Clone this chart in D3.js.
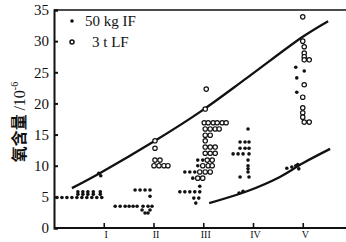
<!DOCTYPE html>
<html>
<head>
<meta charset="utf-8">
<script src="https://cdn.jsdelivr.net/npm/d3@7"></script>
<style>
  body { margin: 0; background: #fff; }
  svg { display: block; }
  .tick text { font-family: "Liberation Serif", "DejaVu Serif", serif; fill: #111; }
</style>
</head>
<body>
<svg id="chart" width="346" height="242"></svg>
<script>
(function (d3) {
  'use strict';

  // group labels on the x axis (I..V sit at 1..5)
  var groups = ["I", "II", "III", "IV", "V"];
  var yTicks = [0, 5, 10, 15, 20, 25, 30, 35];
  var legendLabels = ["50 kg IF", "3 t LF"];

  // 50 kg IF  (filled dots), [position, oxygen]
  var smallIF = [
    [0.06, 4.9], [0.16, 4.9], [0.26, 4.9], [0.36, 4.9], [0.46, 4.9], [0.56, 4.9],
    [0.66, 4.9], [0.76, 4.9], [0.86, 4.9], [0.96, 4.9],
    [0.48, 5.4], [0.58, 5.4], [0.68, 5.4], [0.79, 5.4], [0.93, 5.4],
    [0.48, 5.8], [0.58, 5.8], [0.68, 5.8], [0.79, 5.8], [0.93, 5.8],
    [0.90, 8.8], [0.94, 8.4],
    [1.63, 6.1], [1.73, 6.1], [1.83, 6.1], [1.93, 6.1], [1.93, 5.1],
    [1.23, 3.5], [1.33, 3.5], [1.43, 3.5], [1.51, 3.5], [1.59, 3.5], [1.67, 3.5],
    [1.79, 3.5], [1.89, 3.5], [1.97, 3.5],
    [1.77, 2.9], [1.93, 2.9], [1.83, 2.4], [1.89, 2.4],
    [2.89, 10.9], [2.99, 10.9], [2.89, 10.0],
    [2.63, 9.0], [2.73, 9.0], [2.83, 9.0], [2.79, 8.0],
    [2.93, 6.7],
    [2.53, 5.8], [2.63, 5.8], [2.73, 5.8], [2.83, 5.8], [2.93, 5.8],
    [2.81, 4.8], [2.91, 4.8], [2.85, 4.0],
    [3.90, 15.9],
    [3.74, 13.8], [3.84, 13.8], [3.92, 13.8],
    [3.74, 12.8], [3.84, 12.8], [3.92, 12.8],
    [3.60, 11.9], [3.70, 11.9], [3.80, 11.9], [3.92, 11.9],
    [3.90, 10.9], [3.90, 10.0], [3.90, 9.5], [3.90, 9.0],
    [3.74, 8.2], [3.92, 8.2],
    [3.72, 5.6], [3.80, 5.9],
    [4.86, 25.8], [5.03, 25.2], [4.88, 24.1], [4.88, 21.8],
    [4.68, 9.6], [4.78, 9.8], [4.86, 10.0], [4.92, 9.5], [4.90, 10.2]
  ];

  // 3 t LF (open circles)
  var largeLF = [
    [2.03, 14.0], [2.03, 12.8],
    [2.03, 10.9], [2.13, 10.9],
    [2.01, 10.0], [2.11, 10.0], [2.21, 10.0], [2.29, 10.0],
    [3.06, 22.3], [3.04, 19.1],
    [3.02, 16.9], [3.10, 16.9], [3.20, 16.9], [3.28, 16.9], [3.38, 16.9], [3.46, 16.9],
    [3.04, 15.9], [3.14, 15.9], [3.24, 15.9], [3.32, 15.9],
    [3.04, 14.9], [3.14, 14.9], [3.04, 14.0],
    [3.04, 13.0], [3.14, 13.0], [3.24, 13.0],
    [3.04, 12.0], [3.14, 12.0], [3.24, 12.0],
    [3.08, 10.9], [3.18, 10.9],
    [2.99, 10.0], [3.10, 10.0], [3.18, 10.0],
    [2.93, 9.0], [3.04, 9.0], [3.14, 9.0],
    [2.89, 8.0], [2.99, 8.0],
    [5.00, 33.9], [5.00, 30.0], [5.03, 29.1], [5.03, 28.1], [5.03, 27.5],
    [5.03, 27.0], [5.13, 27.0],
    [5.03, 23.0], [5.00, 21.0], [5.00, 19.3], [5.00, 18.5], [5.00, 17.8],
    [5.03, 17.0], [5.13, 17.0]
  ];

  // fitted curves
  var upperCurve = [[0.36, 6.4], [0.92, 8.8], [2.03, 14.0], [2.93, 18.6], [3.88, 24.1], [5.0, 30.7], [5.51, 33.2]];
  var lowerCurve = [[3.12, 4.0], [3.88, 5.9], [4.54, 8.2], [5.0, 10.4], [5.55, 12.7]];

  var svg = d3.select("#chart");

  var x = d3.scaleLinear().domain([0, 6]).range([54, 352.5]);
  var y = d3.scaleLinear().domain([0, 35]).range([228, 10]);

  // frame: top border
  svg.append("line")
    .attr("x1", x(0)).attr("x2", 346)
    .attr("y1", y(35)).attr("y2", y(35))
    .attr("stroke", "#111").attr("stroke-width", 1.6);

  var yAxis = svg.append("g")
    .attr("transform", "translate(" + x(0) + ",0)")
    .call(d3.axisLeft(y).tickValues(yTicks).tickSize(-4).tickPadding(5));
  yAxis.select(".domain").attr("stroke", "#111").attr("stroke-width", 2);
  yAxis.selectAll(".tick line").attr("stroke", "#111").attr("stroke-width", 2);
  yAxis.selectAll(".tick text").attr("font-size", 15);

  // roman labels: kept whole inside the picture (reference crops them)
  var xAxis = svg.append("g")
    .attr("transform", "translate(0," + y(0) + ")")
    .call(d3.axisBottom(x).tickValues([1, 2, 3, 4, 5])
      .tickFormat(function (d) { return groups[d - 1]; })
      .tickSize(-5).tickPadding(3));
  xAxis.select(".domain").attr("stroke", "#111").attr("stroke-width", 2)
    .attr("d", "M" + x(0) + ",0H346");
  xAxis.selectAll(".tick line").attr("stroke", "#111").attr("stroke-width", 1.6);
  xAxis.selectAll(".tick text").attr("font-size", 10).attr("dx", 2);

  // y title
  var title = svg.append("text")
    .attr("transform", "translate(25,122) rotate(-90)")
    .attr("text-anchor", "middle")
    .attr("font-family", "'Noto Sans CJK SC', sans-serif")
    .attr("font-weight", 700)
    .attr("font-size", 16)
    .attr("fill", "#111");
  title.append("tspan").text("氧含量 ");
  title.append("tspan").attr("font-family", "'Liberation Serif', serif").attr("font-weight", 400).text("/10");
  title.append("tspan").attr("font-family", "'Liberation Serif', serif").attr("font-weight", 400)
    .attr("font-size", 10).attr("dy", -7).text("-6");

  // curves
  var line = d3.line()
    .x(function (d) { return x(d[0]); })
    .y(function (d) { return y(d[1]); })
    .curve(d3.curveCatmullRom);

  svg.selectAll("path.fit")
    .data([upperCurve, lowerCurve])
    .enter().append("path")
    .attr("class", "fit")
    .attr("d", line)
    .attr("fill", "none")
    .attr("stroke", "#111")
    .attr("stroke-width", 2.3);

  // points
  svg.selectAll("circle.lf")
    .data(largeLF)
    .enter().append("circle")
    .attr("class", "lf")
    .attr("cx", function (d) { return x(d[0]); })
    .attr("cy", function (d) { return y(d[1]); })
    .attr("r", 2.2)
    .attr("fill", "#fff")
    .attr("stroke", "#111")
    .attr("stroke-width", 1.2);

  svg.selectAll("circle.if")
    .data(smallIF)
    .enter().append("circle")
    .attr("class", "if")
    .attr("cx", function (d) { return x(d[0]); })
    .attr("cy", function (d) { return y(d[1]); })
    .attr("r", 1.8)
    .attr("fill", "#111");

  // legend
  var legend = svg.selectAll("g.legend")
    .data(legendLabels)
    .enter().append("g")
    .attr("class", "legend")
    .attr("transform", function (d, i) { return "translate(72," + (21 + i * 21) + ")"; });

  legend.append("circle")
    .attr("r", function (d, i) { return i === 0 ? 1.8 : 2; })
    .attr("fill", function (d, i) { return i === 0 ? "#111" : "#fff"; })
    .attr("stroke", "#111")
    .attr("stroke-width", function (d, i) { return i === 0 ? 0 : 1.5; });

  legend.append("text")
    .attr("x", function (d, i) { return i === 0 ? 13 : 20; })
    .attr("y", 5)
    .attr("font-family", "'Liberation Serif', serif")
    .attr("font-size", 15)
    .attr("fill", "#111")
    .text(function (d) { return d; });

})(d3);
</script>
</body>
</html>
